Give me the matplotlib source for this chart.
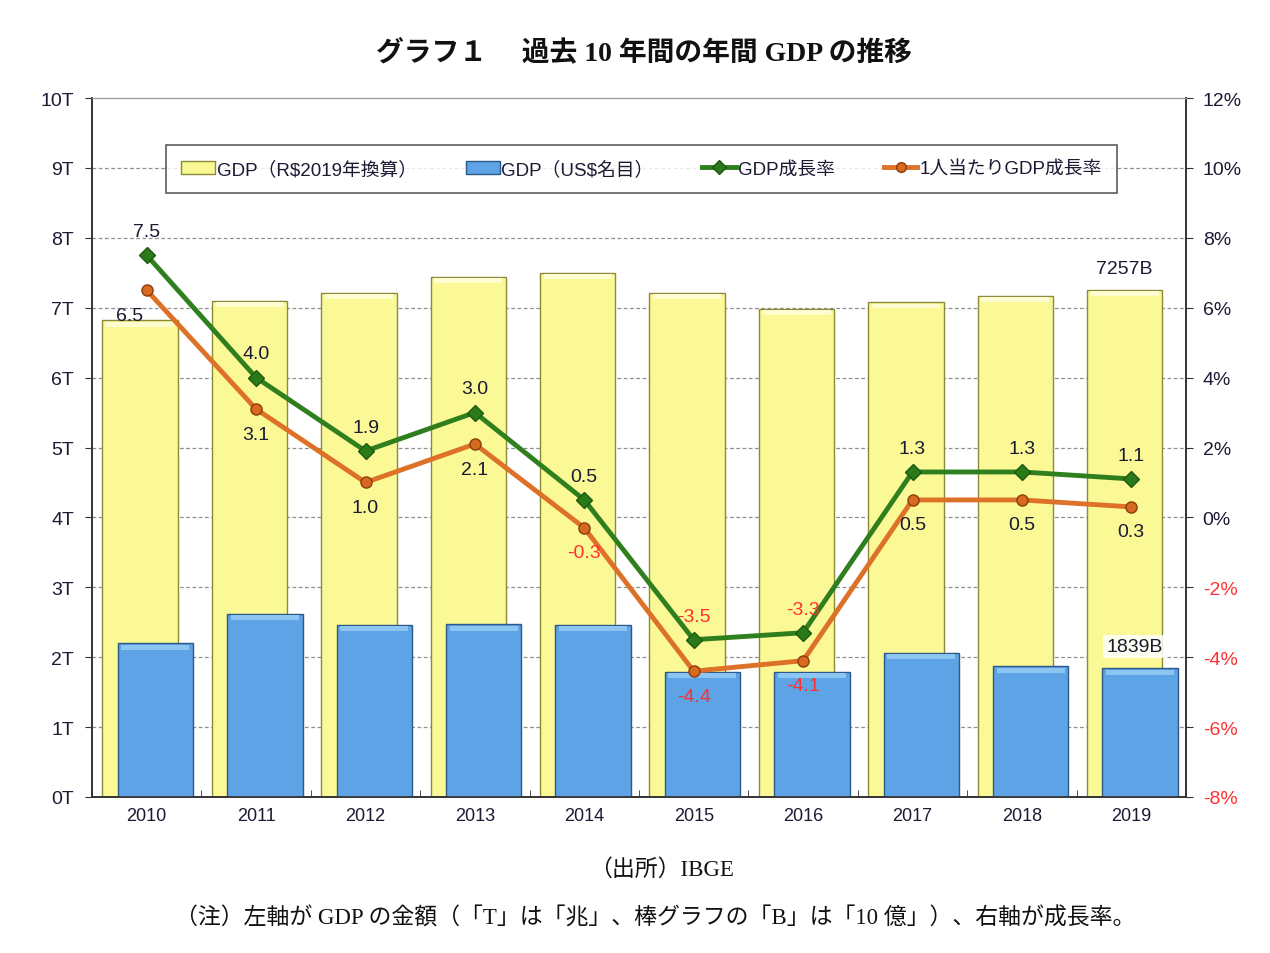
import matplotlib
matplotlib.use("Agg")
import matplotlib.pyplot as plt
import numpy as np
from matplotlib.patches import Patch
from matplotlib.lines import Line2D

years = ["2010", "2011", "2012", "2013", "2014", "2015", "2016", "2017", "2018", "2019"]
gdp_real_T = [6.82, 7.10, 7.21, 7.44, 7.50, 7.21, 6.98, 7.08, 7.17, 7.257]
gdp_usd_T = [2.20, 2.62, 2.46, 2.47, 2.46, 1.79, 1.79, 2.06, 1.87, 1.839]
gdp_growth = [7.5, 4.0, 1.9, 3.0, 0.5, -3.5, -3.3, 1.3, 1.3, 1.1]
pc_growth = [6.5, 3.1, 1.0, 2.1, -0.3, -4.4, -4.1, 0.5, 0.5, 0.3]
left_ticks = [0, 1, 2, 3, 4, 5, 6, 7, 8, 9, 10]
right_ticks = [-8, -6, -4, -2, 0, 2, 4, 6, 8, 10, 12]

JP = ['Liberation Sans', 'Noto Sans CJK JP']
JPSERIF = ['Liberation Serif', 'Noto Sans CJK JP']
plt.rcParams['font.family'] = JP

TXT = '#1a1a33'
RED = '#ff3030'
YEL = '#fbf996'
YEL_E = '#8a8a3a'
BLU = '#5ea3e6'
BLU_E = '#2c5a88'
GRN = '#2f7f1e'
ORG = '#dd7128'

fig = plt.figure(figsize=(12.7, 9.54), dpi=100)
ax = fig.add_axes([92/1270, 1-798/954, (1186-92)/1270, (798-99)/954])
ax2 = ax.twinx()

x = np.arange(len(years))
w = 0.69
ax.bar(x - 0.06, gdp_real_T, width=w, color=YEL, edgecolor=YEL_E, linewidth=1.0, zorder=2)
ax.bar(x + 0.08, gdp_usd_T, width=w, color=BLU, edgecolor=BLU_E, linewidth=1.0, zorder=3)
# top highlights for bevel look
ax.bar(x - 0.06, [0.07]*len(x), bottom=np.array(gdp_real_T) - 0.09, width=w*0.9,
       color='#fefdd0', linewidth=0, zorder=2.5)
ax.bar(x + 0.08, [0.07]*len(x), bottom=np.array(gdp_usd_T) - 0.09, width=w*0.9,
       color='#8cc4f2', linewidth=0, zorder=3.5)

ax.set_xlim(-0.5, 9.5)
ax.set_ylim(0, 10)
ax.set_yticks(left_ticks)
ax.set_yticklabels([f"{t}T" for t in left_ticks], fontsize=14, color=TXT)
ax.set_xticks(x)
ax.set_xticklabels(years, fontsize=13, color=TXT)
ax.tick_params(axis='x', length=0, pad=7)
ax.set_xticks(np.arange(-0.5, 9.6, 1.0), minor=True)
ax.tick_params(axis='x', which='minor', direction='in', length=5, color='#333333')
ax.tick_params(axis='y', direction='out', length=5, color='#333333', pad=8)
for t in left_ticks[1:-1]:
    ax.axhline(t, color='#909090', linestyle=(0, (3, 2)), linewidth=0.9, zorder=1)
ax.set_axisbelow(True)

for s in ['left', 'right', 'bottom']:
    ax.spines[s].set_color('#333333')
    ax.spines[s].set_linewidth(1.2)
ax.spines['top'].set_color('#999999')

ax2.set_ylim(-8, 12)
ax2.set_yticks(right_ticks)
ax2.set_yticklabels([f"{t}%" for t in right_ticks], fontsize=14)
for lbl, t in zip(ax2.get_yticklabels(), right_ticks):
    lbl.set_color(RED if t < 0 else TXT)
ax2.tick_params(axis='y', direction='out', length=5, color='#333333', pad=7)
for s in ['left', 'right', 'bottom']:
    ax2.spines[s].set_color('#333333')
    ax2.spines[s].set_linewidth(1.2)
ax2.spines['top'].set_color('#999999')

ax2.plot(x, gdp_growth, color=GRN, linewidth=3.5, marker='D', markersize=8,
         markerfacecolor='#2a7a1a', markeredgecolor='#1d5a10', zorder=5)
ax2.plot(x, pc_growth, color=ORG, linewidth=3.5, marker='o', markersize=8,
         markerfacecolor='#d56a20', markeredgecolor='#8a3d0a', zorder=4)

for xi, v in zip(x, gdp_growth):
    ax2.annotate(f"{v:.1f}", (xi, v), xytext=(0, 17), textcoords='offset points',
                 ha='center', va='center', fontsize=14, color=RED if v < 0 else TXT, zorder=6)
for i, (xi, v) in enumerate(zip(x, pc_growth)):
    dx = -12 if i == 0 else 0
    ax2.annotate(f"{v:.1f}", (xi, v), xytext=(dx, -18), textcoords='offset points',
                 ha='center', va='center', fontsize=14, color=RED if v < 0 else TXT, zorder=6)

ax.annotate(f"{round(gdp_real_T[-1]*1000)}B", (x[-1] - 0.06, gdp_real_T[-1]),
            xytext=(0, 15), textcoords='offset points', ha='center', va='center',
            fontsize=14, color=TXT)
ax2.annotate(f"{round(gdp_usd_T[-1]*1000)}B", (x[-1] + 0.03, -8 + gdp_usd_T[-1] * 2),
             xytext=(0, 16), textcoords='offset points', ha='center', va='center',
             fontsize=14, color=TXT, zorder=7,
             bbox=dict(boxstyle='square,pad=0.15', facecolor='white', edgecolor='none', alpha=0.85))

handles = [Patch(facecolor=YEL, edgecolor=YEL_E), Patch(facecolor=BLU, edgecolor=BLU_E),
           Line2D([], [], color=GRN, linewidth=3.5, marker='D', markersize=7,
                  markerfacecolor='#2a7a1a', markeredgecolor='#1d5a10'),
           Line2D([], [], color=ORG, linewidth=3.5, marker='o', markersize=7,
                  markerfacecolor='#d56a20', markeredgecolor='#8a3d0a')]
labels = ["GDP（R$2019年換算）", "GDP（US$名目）", "GDP成長率", "1人当たりGDP成長率"]
leg = ax2.legend(handles, labels, ncol=4, loc='center',
                 bbox_to_anchor=((163+1120)/2/1270, 1-170/954),
                 bbox_transform=fig.transFigure, fontsize=13.5, frameon=True, fancybox=False,
                 edgecolor='#333333', handlelength=1.8, handletextpad=0.1, columnspacing=2.6,
                 borderpad=0.8)
leg.get_frame().set_linewidth(1.2)
for t in leg.get_texts():
    t.set_color(TXT)
leg.set_zorder(10)

fig.text(644/1270, 1-53/954, "グラフ１　 過去 10 年間の年間 GDP の推移", ha='center', va='center',
         fontsize=20, fontweight='bold', family=JPSERIF, color='#111111')
fig.text(661/1270, 1-870/954, "（出所）IBGE", ha='center', va='center', fontsize=16.5,
         family=JPSERIF, color='#111111')
fig.text(655/1270, 1-918/954, "（注）左軸が GDP の金額（「T」は「兆」、棒グラフの「B」は「10 億」）、右軸が成長率。",
         ha='center', va='center', fontsize=16.5, family=JPSERIF, color='#111111')

fig.savefig("out.png", dpi=100)
